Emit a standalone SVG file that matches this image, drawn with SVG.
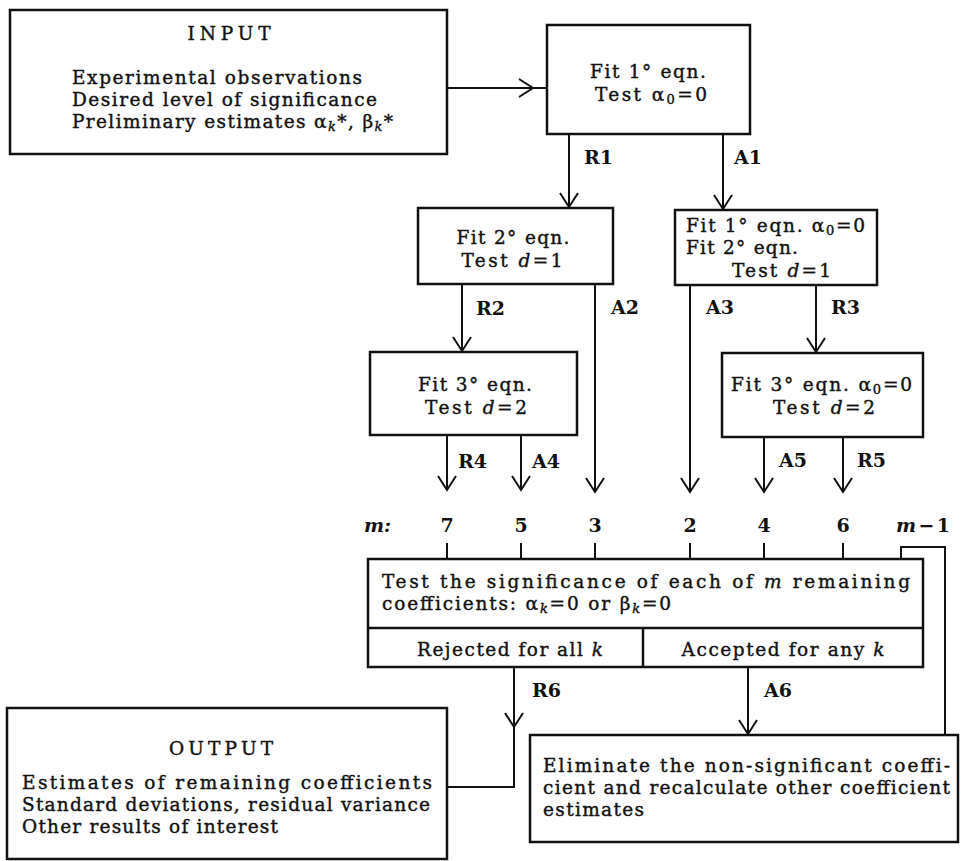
<svg xmlns="http://www.w3.org/2000/svg" width="961" height="861" viewBox="0 0 961 861">
<defs>
<style>
.box{fill:none;stroke:#111;stroke-width:2.5}
.ln{fill:none;stroke:#111;stroke-width:2}
text{font-family:"DejaVu Serif","Liberation Serif",serif;font-size:18.5px;fill:#111;stroke:#111;stroke-width:0.4}
.c{text-anchor:middle}
.lb{font-weight:bold;font-size:19px;stroke-width:0}
.i{font-style:italic}
.s{font-size:13px}
</style>
<marker id="ah" markerUnits="userSpaceOnUse" viewBox="-16 -11 18 22" refX="0" refY="0" markerWidth="18" markerHeight="22" orient="auto" overflow="visible">
<path d="M-14,-9 L0,0 L-14,9" fill="none" stroke="#111" stroke-width="2"/>
</marker>
</defs>
<rect width="961" height="861" fill="#fff"/>

<g id="input">
<rect class="box" x="10" y="10" width="437" height="144"/>
<text class="c" x="229" y="40" textLength="83">INPUT</text>
<text x="72" y="84" textLength="290">Experimental observations</text>
<text x="72" y="106" textLength="305">Desired level of significance</text>
<text x="72" y="128" textLength="321">Preliminary estimates α<tspan class="s i" dy="3">k</tspan><tspan dy="-3">*, β</tspan><tspan class="s i" dy="3">k</tspan><tspan dy="-3">*</tspan></text>
</g>

<g id="fit1">
<rect class="box" x="547" y="25" width="203" height="109"/>
<text class="c" x="648" y="78" textLength="116">Fit 1° eqn.</text>
<text class="c" x="651" y="101" textLength="112">Test α<tspan class="s" dy="3">0</tspan><tspan dy="-3">=0</tspan></text>
</g>

<g id="fit2">
<rect class="box" x="418" y="208" width="195" height="76"/>
<text class="c" x="513" y="244" textLength="113">Fit 2° eqn.</text>
<text class="c" x="512" y="267" textLength="101">Test <tspan class="i">d</tspan>=1</text>
</g>

<g id="fit1a">
<rect class="box" x="675" y="210" width="202" height="75"/>
<text x="686" y="232" textLength="179">Fit 1° eqn.  α<tspan class="s" dy="3">0</tspan><tspan dy="-3">=0</tspan></text>
<text x="686" y="254" textLength="112">Fit 2° eqn.</text>
<text x="732" y="277" textLength="99">Test <tspan class="i">d</tspan>=1</text>
</g>

<g id="fit3">
<rect class="box" x="370" y="352" width="207" height="83"/>
<text class="c" x="475" y="391" textLength="114">Fit 3° eqn.</text>
<text class="c" x="476" y="414" textLength="102">Test <tspan class="i">d</tspan>=2</text>
</g>

<g id="fit3a">
<rect class="box" x="722" y="353" width="201" height="84"/>
<text x="731" y="391" textLength="181">Fit 3° eqn.  α<tspan class="s" dy="3">0</tspan><tspan dy="-3">=0</tspan></text>
<text class="c" x="824" y="414" textLength="102">Test <tspan class="i">d</tspan>=2</text>
</g>

<g id="test">
<rect class="box" x="368" y="559" width="555" height="108"/>
<line class="box" x1="368" y1="628" x2="923" y2="628"/>
<line class="box" x1="643" y1="628" x2="643" y2="667"/>
<text x="382" y="588" textLength="528">Test the significance of each of <tspan class="i">m</tspan> remaining</text>
<text x="382" y="610" textLength="289">coefficients: α<tspan class="s i" dy="3">k</tspan><tspan dy="-3">=0 or β</tspan><tspan class="s i" dy="3">k</tspan><tspan dy="-3">=0</tspan></text>
<text class="c" x="510" y="656" textLength="186">Rejected for all <tspan class="i">k</tspan></text>
<text class="c" x="783" y="656" textLength="203">Accepted for any <tspan class="i">k</tspan></text>
</g>

<g id="output">
<rect class="box" x="7" y="708" width="440" height="151"/>
<text class="c" x="221" y="755" textLength="104">OUTPUT</text>
<text x="22" y="789" textLength="410">Estimates of remaining coefficients</text>
<text x="22" y="811" textLength="408">Standard deviations, residual variance</text>
<text x="22" y="833" textLength="256">Other results of interest</text>
</g>

<g id="eliminate">
<rect class="box" x="530" y="735" width="428" height="107"/>
<text x="543" y="772" textLength="407">Eliminate the non-significant coeffi-</text>
<text x="543" y="794" textLength="407">cient and recalculate other coefficient</text>
<text x="543" y="816" textLength="101">estimates</text>
</g>

<g id="connectors">
<line class="ln" x1="447" y1="88" x2="533" y2="88" marker-end="url(#ah)"/>
<line class="ln" x1="533" y1="88" x2="547" y2="88"/>
<line class="ln" x1="569" y1="134" x2="569" y2="207" marker-end="url(#ah)"/>
<line class="ln" x1="723" y1="134" x2="723" y2="209" marker-end="url(#ah)"/>
<line class="ln" x1="462" y1="284" x2="462" y2="351" marker-end="url(#ah)"/>
<line class="ln" x1="595" y1="284" x2="595" y2="492" marker-end="url(#ah)"/>
<line class="ln" x1="690" y1="285" x2="690" y2="492" marker-end="url(#ah)"/>
<line class="ln" x1="816" y1="285" x2="816" y2="352" marker-end="url(#ah)"/>
<line class="ln" x1="447" y1="435" x2="447" y2="490" marker-end="url(#ah)"/>
<line class="ln" x1="521" y1="435" x2="521" y2="490" marker-end="url(#ah)"/>
<line class="ln" x1="764" y1="437" x2="764" y2="492" marker-end="url(#ah)"/>
<line class="ln" x1="843" y1="437" x2="843" y2="492" marker-end="url(#ah)"/>
<path class="ln" d="M447,543V559M521,543V559M595,543V559M690,543V559M764,543V559M843,543V559"/>
<polyline class="ln" points="901,559 901,547 945,547 945,735"/>
<line class="ln" x1="514" y1="667" x2="514" y2="727" marker-end="url(#ah)"/>
<polyline class="ln" points="514,727 514,787 447,787"/>
<line class="ln" x1="748" y1="667" x2="748" y2="734" marker-end="url(#ah)"/>
</g>

<g id="labels">
<text class="lb" x="584" y="164">R1</text>
<text class="lb" x="734" y="164">A1</text>
<text class="lb" x="476" y="315">R2</text>
<text class="lb" x="611" y="314">A2</text>
<text class="lb" x="706" y="314">A3</text>
<text class="lb" x="831" y="314">R3</text>
<text class="lb" x="458" y="468">R4</text>
<text class="lb" x="532" y="468">A4</text>
<text class="lb" x="779" y="467">A5</text>
<text class="lb" x="857" y="467">R5</text>
<text class="lb" x="532" y="697">R6</text>
<text class="lb" x="764" y="697">A6</text>
<text class="lb i" x="364" y="532">m:</text>
<text class="lb c" x="447" y="532">7</text>
<text class="lb c" x="521" y="532">5</text>
<text class="lb c" x="595" y="532">3</text>
<text class="lb c" x="690" y="532">2</text>
<text class="lb c" x="764" y="532">4</text>
<text class="lb c" x="843" y="532">6</text>
<text class="lb" x="896" y="532" textLength="54"><tspan class="i">m</tspan>−1</text>
</g>
</svg>
